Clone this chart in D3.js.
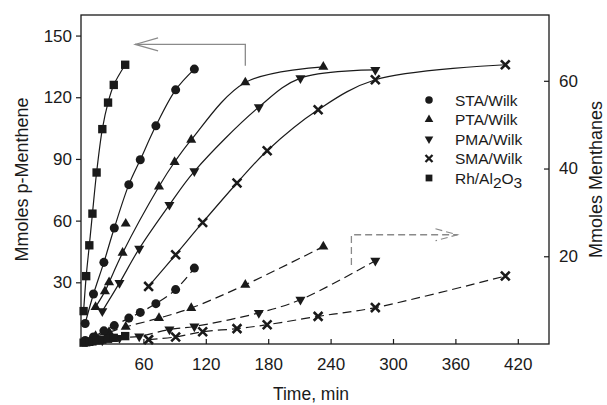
<!DOCTYPE html>
<html>
<head>
<meta charset="utf-8">
<script src="https://cdn.jsdelivr.net/npm/d3@7"></script>
<style>
  body { margin: 0; background: #fff; }
  text { font-family: "Liberation Sans", Arial, Helvetica, sans-serif; fill: #1a1a1a; }
</style>
</head>
<body>
<div id="chart"></div>
<script>
// ---------------------------------------------------------------
// Data (time in min)
// p-Menthene (left axis, solid) and Menthanes (right axis, dashed)
// ---------------------------------------------------------------
var staT = [4, 12, 22, 32, 46, 57, 72, 91, 109];
var staP = [10, 24.3, 39.7, 56.4, 77.5, 89.6, 106.1, 123.6, 133.7];
var staM = [0.8, 1.6, 3.0, 4.2, 5.9, 7.2, 9.2, 12.4, 17.3];

var ptaT = [14, 23, 27, 40, 43, 75, 90, 106, 158, 233];
var ptaP = [18, 25.6, 30, 44.3, 58.5, 76.6, 88.5, 99.3, 127.2, 134.8];
var ptaOff = [4]; // point that sits off the fitted line
var ptaMT = [14, 27, 43, 75, 106, 158, 233];
var ptaM = [1.8, 2.7, 3.9, 5.9, 8.2, 13.5, 22.2];

var pmaT = [20.5, 37, 56, 85, 109, 171, 211, 283];
var pmaP = [16, 29.7, 46.4, 67.7, 84, 115.2, 129.3, 133.3];
var pmaM = [0.8, 1.4, 1.75, 3.3, 4.0, 7.1, 10.1, 19.0];

var smaT = [65, 91, 117, 150, 179, 228, 283, 408];
var smaP = [28, 43.4, 59.1, 78.3, 94, 113.9, 128.5, 135.8];
var smaM = [1.0, 1.6, 2.8, 3.5, 4.4, 6.3, 8.3, 15.5];

var rhT = [2.5, 5, 8, 11, 15, 20.5, 26, 31.5, 42.5];
var rhP = [16, 33, 48, 63.4, 83.4, 104.5, 117.4, 126, 135.8];
var rhM = [0.3, 0.4, 0.5, 0.6, 0.8, 1.0, 1.2, 1.4, 1.8];

var xTicks = [60, 120, 180, 240, 300, 360, 420];
var yLTicks = [30, 60, 90, 120, 150];
var yRTicks = [20, 40, 60];

var legendNames = ["STA/Wilk", "PTA/Wilk", "PMA/Wilk", "SMA/Wilk", "Rh/Al2O3"];

// annotation arrows, in data units
var leftArrow = { tip: 52, corner: 158, top: 145.7, bottom: 135.3 };   // left axis
var rightArrow = { corner: 260, tip: 362, top: 24.9, bottom: 18 };     // right axis

// ---------------------------------------------------------------
// Set up svg
// ---------------------------------------------------------------
var W = 607, H = 405;
var margin = { left: 81, top: 15, right: 58, bottom: 61 };
var width = W - margin.left - margin.right,
    height = H - margin.top - margin.bottom;

var svg = d3.select("#chart")
  .append("svg")
  .attr("width", W)
  .attr("height", H);

var g = svg.append("g")
  .attr("transform", "translate(" + margin.left + "," + margin.top + ")");

var x = d3.scaleLinear().domain([0, 450]).range([0, width]);
var yL = d3.scaleLinear().domain([0, 160]).range([height, 0]);
var yR = d3.scaleLinear().domain([0, 75]).range([height, 0]);

// ---------------------------------------------------------------
// Axes
// ---------------------------------------------------------------
var fs = "17px";

var gx = g.append("g")
  .attr("transform", "translate(0," + height + ")")
  .call(d3.axisBottom(x).tickValues(xTicks).tickSize(-5).tickPadding(14));

var gyl = g.append("g")
  .call(d3.axisLeft(yL).tickValues(yLTicks).tickSize(5).tickPadding(4));

var gyr = g.append("g")
  .attr("transform", "translate(" + width + ",0)")
  .call(d3.axisRight(yR).tickValues(yRTicks).tickSize(-5).tickPadding(10));

[gx, gyl, gyr].forEach(function(a) {
  a.select(".domain").remove();
  a.selectAll("line").attr("stroke", "#1a1a1a").attr("stroke-width", 1.2);
  a.selectAll("text").style("font-size", fs).attr("fill", "#1a1a1a");
});

// frame
g.append("rect")
  .attr("width", width)
  .attr("height", height)
  .attr("fill", "none")
  .attr("stroke", "#1a1a1a")
  .attr("stroke-width", 1.3);

// axis titles
svg.append("text")
  .attr("transform", "translate(28," + (margin.top + height / 2) + ") rotate(-90)")
  .attr("text-anchor", "middle")
  .style("font-size", "18px")
  .text("Mmoles p-Menthene");

svg.append("text")
  .attr("transform", "translate(602," + (margin.top + height / 2) + ") rotate(-90)")
  .attr("text-anchor", "middle")
  .style("font-size", "18px")
  .text("Mmoles Menthanes");

svg.append("text")
  .attr("x", margin.left + width / 2 - 4)
  .attr("y", 400)
  .attr("text-anchor", "middle")
  .style("font-size", "17.5px")
  .text("Time, min");

// ---------------------------------------------------------------
// Series
// ---------------------------------------------------------------
var shapes = {
  circle: d3.symbol(d3.symbolCircle, 64),
  square: d3.symbol(d3.symbolSquare, 70),
  triUp: d3.symbol(d3.symbolTriangle, 44),
  triDown: d3.symbol(d3.symbolTriangle, 44),
  cross: d3.symbol(d3.symbolX, 52)
};

function zip(ts, vs) {
  return ts.map(function(t, i) { return { t: t, v: vs[i], i: i }; });
}

function drawSeries(ts, vs, scale, shape, dashed, skip) {
  var pts = zip(ts, vs);
  var fitPts = pts.filter(function(d) { return !(skip && skip.indexOf(d.i) >= 0); });

  var line = d3.line()
    .x(function(d) { return x(d.t); })
    .y(function(d) { return scale(d.v); })
    .curve(d3.curveCatmullRom.alpha(0.5));

  g.append("path")
    .datum(fitPts)
    .attr("d", line)
    .attr("fill", "none")
    .attr("stroke", "#1a1a1a")
    .attr("stroke-width", 1.2)
    .attr("stroke-dasharray", dashed ? "9,5" : null);

  var m = g.append("g").selectAll("path")
    .data(pts)
    .enter()
    .append("path")
    .attr("d", shapes[shape])
    .attr("transform", function(d) {
      return "translate(" + x(d.t) + "," + scale(d.v) + ")" + (shape === "triDown" ? " rotate(180)" : "");
    });
  if (shape === "cross") {
    m.attr("fill", "none").attr("stroke", "#1a1a1a").attr("stroke-width", 2.6);
  } else {
    m.attr("fill", "#1a1a1a");
  }
}

// menthanes (dashed, right axis)
drawSeries(smaT, smaM, yR, "cross", true);
drawSeries(pmaT, pmaM, yR, "triDown", true);
drawSeries(ptaMT, ptaM, yR, "triUp", true);
drawSeries(staT, staM, yR, "circle", true);
drawSeries(rhT, rhM, yR, "square", true);

// p-menthene (solid, left axis)
drawSeries(smaT, smaP, yL, "cross", false);
drawSeries(pmaT, pmaP, yL, "triDown", false);
drawSeries(ptaT, ptaP, yL, "triUp", false, ptaOff);
drawSeries(staT, staP, yL, "circle", false);
drawSeries(rhT, rhP, yL, "square", false);

// ---------------------------------------------------------------
// Arrows pointing to the axis each group belongs to
// ---------------------------------------------------------------
var arrowCol = "#8a8a8a";

g.append("path")
  .attr("d", d3.line()([
    [x(leftArrow.corner), yL(leftArrow.bottom)],
    [x(leftArrow.corner), yL(leftArrow.top)],
    [x(leftArrow.tip), yL(leftArrow.top)]
  ]))
  .attr("fill", "none").attr("stroke", arrowCol).attr("stroke-width", 1.3);

g.append("path")
  .attr("d", d3.line()([
    [x(leftArrow.tip) + 23, yL(leftArrow.top) - 6.5],
    [x(leftArrow.tip), yL(leftArrow.top)],
    [x(leftArrow.tip) + 23, yL(leftArrow.top) + 6.5]
  ]))
  .attr("fill", "none").attr("stroke", arrowCol).attr("stroke-width", 1.1);

g.append("path")
  .attr("d", d3.line()([
    [x(rightArrow.corner), yR(rightArrow.bottom)],
    [x(rightArrow.corner), yR(rightArrow.top)],
    [x(rightArrow.tip), yR(rightArrow.top)]
  ]))
  .attr("fill", "none").attr("stroke", arrowCol).attr("stroke-width", 1.3)
  .attr("stroke-dasharray", "7,4");

g.append("path")
  .attr("d", d3.line()([
    [x(rightArrow.tip) - 22, yR(rightArrow.top) - 6],
    [x(rightArrow.tip), yR(rightArrow.top)],
    [x(rightArrow.tip) - 22, yR(rightArrow.top) + 6]
  ]))
  .attr("fill", "none").attr("stroke", arrowCol).attr("stroke-width", 1.1)
  .attr("stroke-dasharray", "7,4");

// ---------------------------------------------------------------
// Legend
// ---------------------------------------------------------------
var legendShapes = ["circle", "triUp", "triDown", "cross", "square"];
var legendSym = {
  circle: d3.symbol(d3.symbolCircle, 44),
  square: d3.symbol(d3.symbolSquare, 46),
  triUp: d3.symbol(d3.symbolTriangle, 32),
  triDown: d3.symbol(d3.symbolTriangle, 32),
  cross: d3.symbol(d3.symbolX, 34)
};

var legend = svg.append("g")
  .attr("transform", "translate(429,100)");

var rows = legend.selectAll("g")
  .data(legendNames)
  .enter()
  .append("g")
  .attr("transform", function(d, i) { return "translate(0," + (i * 19.5) + ")"; });

rows.append("path")
  .attr("d", function(d, i) { return legendSym[legendShapes[i]](); })
  .attr("transform", function(d, i) { return legendShapes[i] === "triDown" ? "rotate(180)" : null; })
  .attr("fill", function(d, i) { return legendShapes[i] === "cross" ? "none" : "#1a1a1a"; })
  .attr("stroke", function(d, i) { return legendShapes[i] === "cross" ? "#1a1a1a" : null; })
  .attr("stroke-width", 2.3);

rows.append("text")
  .attr("x", 26)
  .attr("y", 5.5)
  .style("font-size", "15.5px")
  .each(function(d) {
    var t = d3.select(this);
    if (d === "Rh/Al2O3") {
      t.append("tspan").text("Rh/Al");
      t.append("tspan").attr("dy", 4).text("2");
      t.append("tspan").attr("dy", -4).text("O");
      t.append("tspan").attr("dy", 4).text("3");
    } else {
      t.text(d);
    }
  });
</script>
</body>
</html>
